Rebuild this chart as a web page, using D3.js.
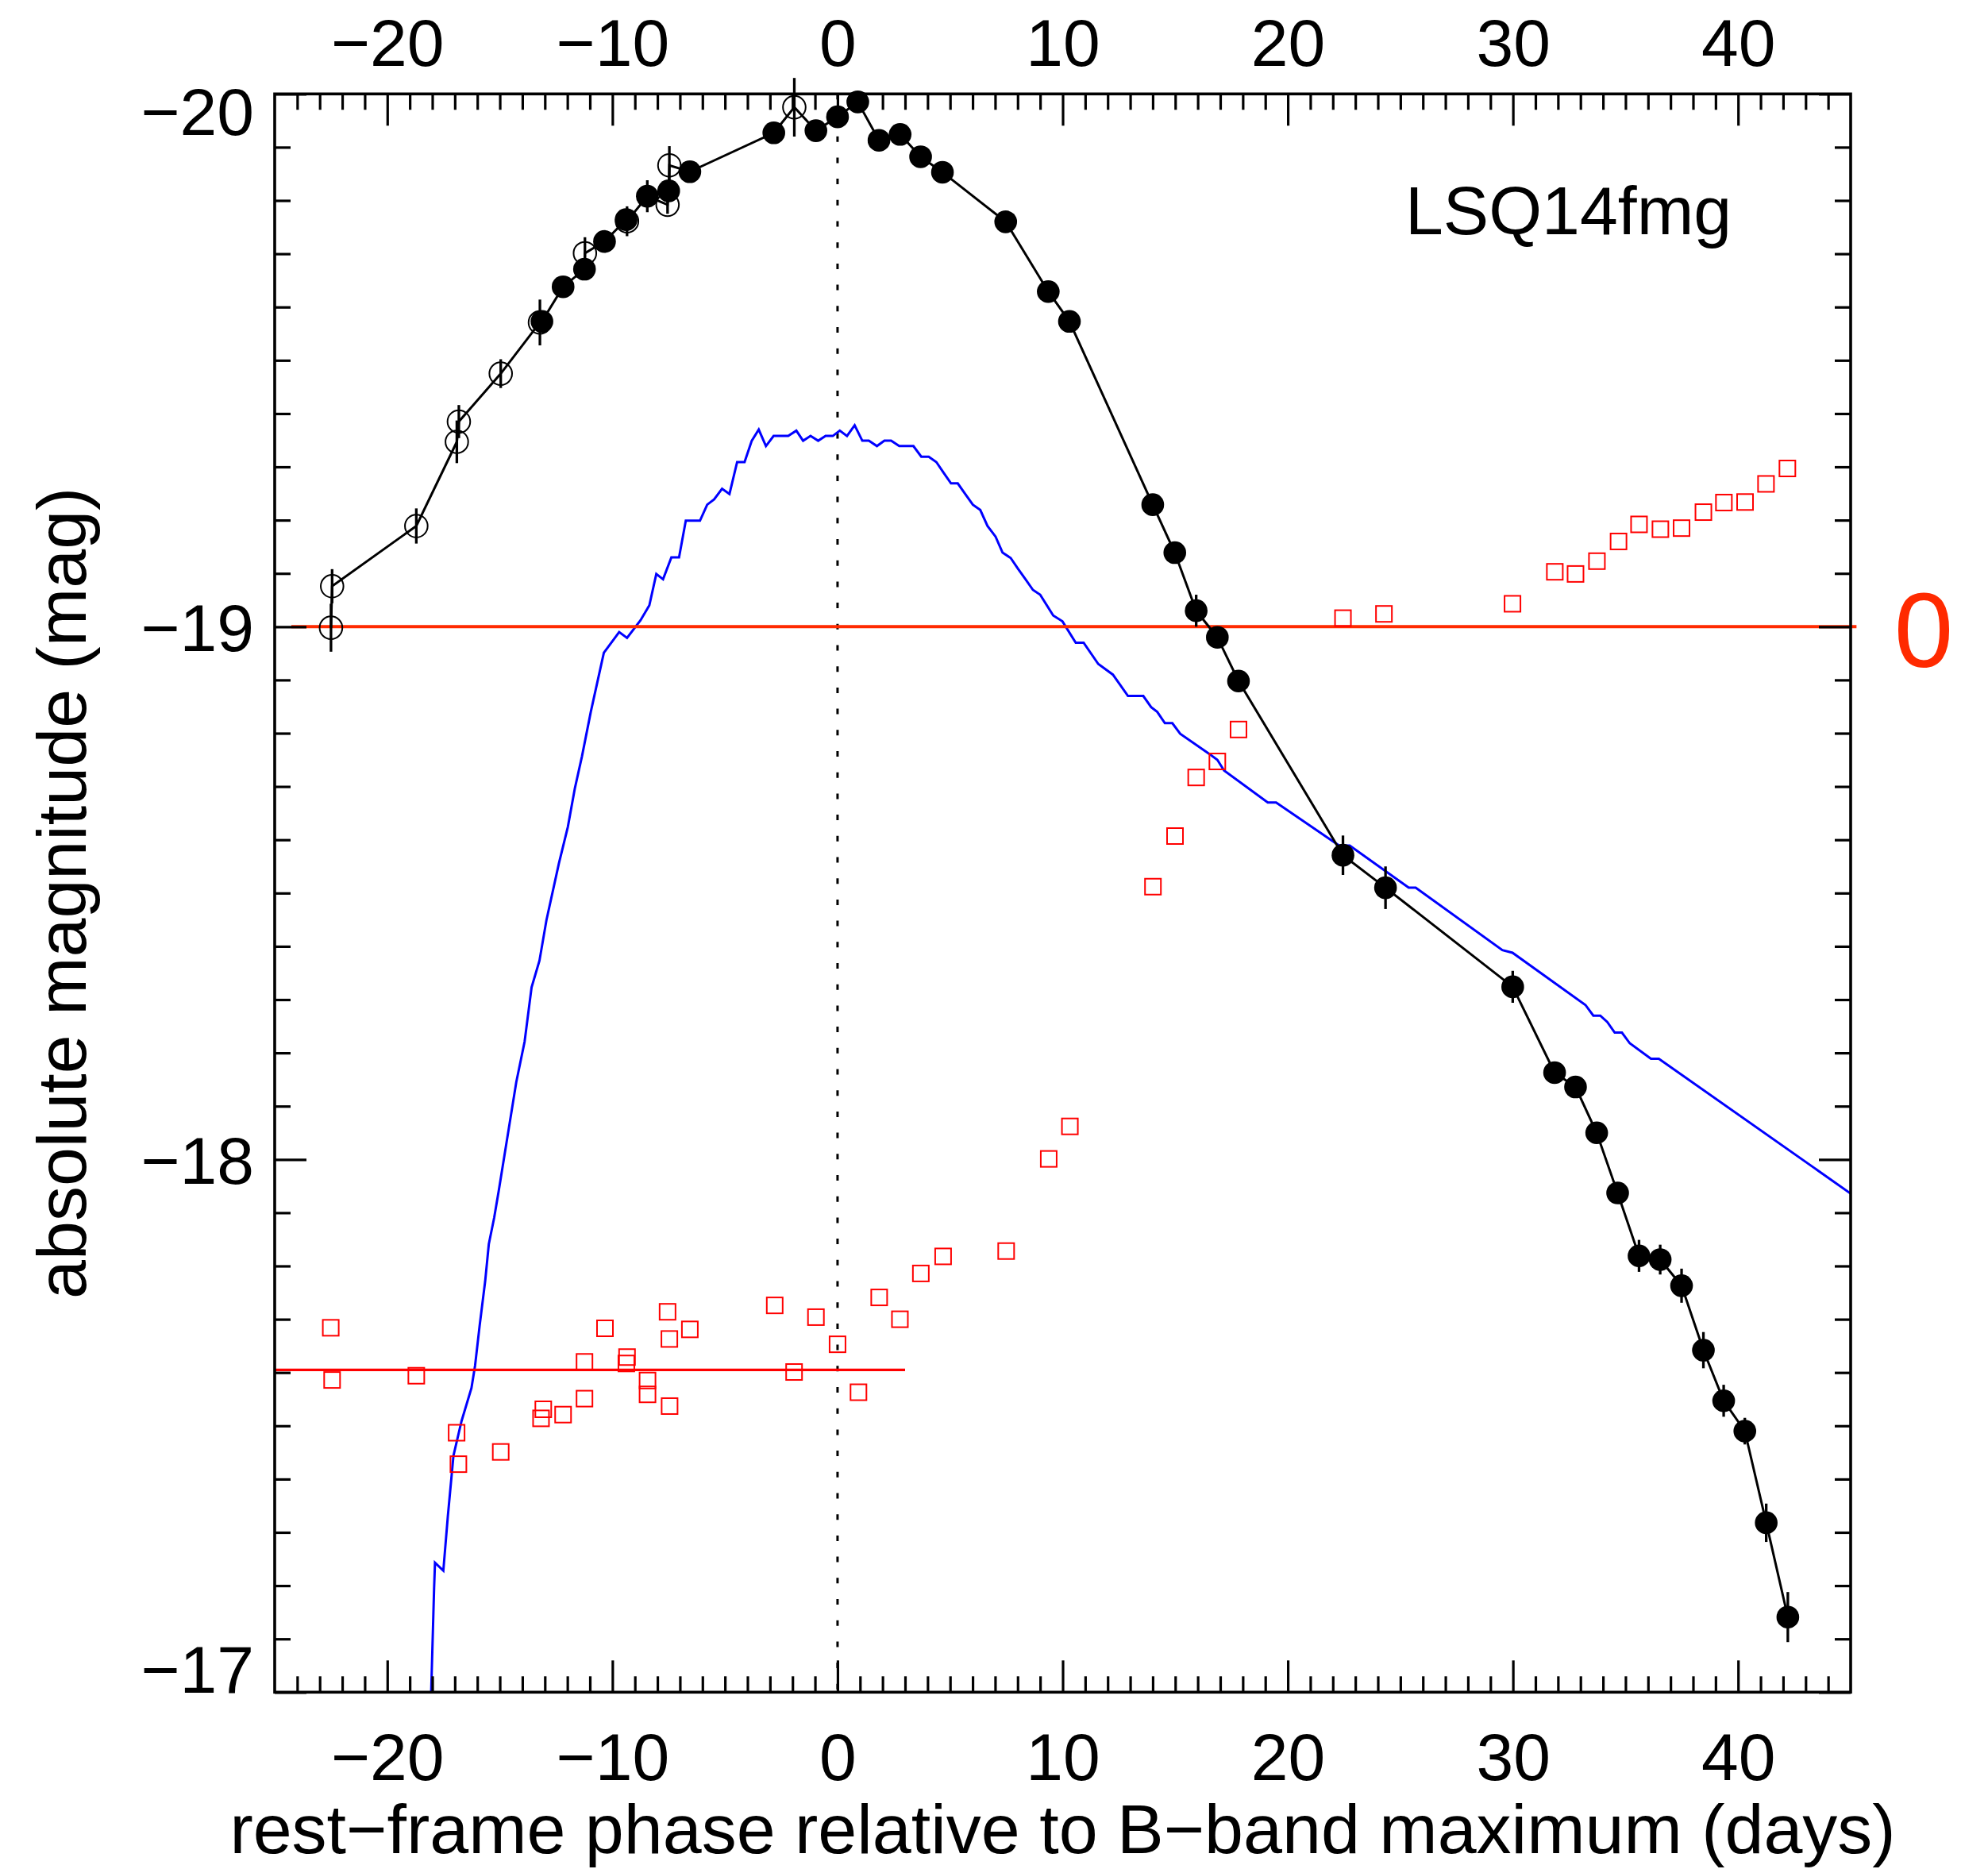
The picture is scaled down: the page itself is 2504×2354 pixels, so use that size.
<!DOCTYPE html>
<html>
<head>
<meta charset="utf-8">
<script src="https://cdn.jsdelivr.net/npm/d3@7"></script>
<style>
  html, body { margin: 0; padding: 0; background: #fff; }
  svg { display: block; }
  text { font-family: "Liberation Sans", Arial, Helvetica, sans-serif; }
</style>
</head>
<body>
<svg id="chart" width="2504" height="2354"></svg>
<script>
// ---------------- data ----------------
const xTicks = [-20, -10, 0, 10, 20, 30, 40];
const yTicks = [-20, -19, -18, -17];

// filled circles (photometry) : phase, absolute magnitude, error
const filledPhase = [-13.13, -12.19, -11.24, -10.35, -9.39, -8.45, -7.50, -6.56, -2.83, -0.96, 0.00, 0.90,
  1.84, 2.78, 3.69, 4.66, 7.47, 9.36, 10.30, 14.00, 14.98, 15.93, 16.87, 17.81, 22.45, 24.34,
  29.99, 31.85, 32.78, 33.72, 34.65, 35.60, 36.54, 37.49, 38.46, 39.36, 40.30, 41.25, 42.21];
const filledMag = [-19.573, -19.638, -19.671, -19.723, -19.764, -19.808, -19.818, -19.854, -19.927, -19.931, -19.957, -19.985,
  -19.913, -19.924, -19.882, -19.853, -19.760, -19.629, -19.573, -19.229, -19.139, -19.030, -18.980, -18.898, -18.571, -18.510,
  -18.324, -18.163, -18.136, -18.050, -17.937, -17.819, -17.812, -17.763, -17.642, -17.547, -17.490, -17.318, -17.141];
const filledErr = [0.015, 0.01, 0.01, 0.01, 0.015, 0.03, 0.01, 0.01, 0.01, 0.01, 0.01, 0.01,
  0.01, 0.01, 0.01, 0.01, 0.01, 0.01, 0.01, 0.01, 0.01, 0.03, 0.01, 0.01, 0.037, 0.04,
  0.03, 0.01, 0.01, 0.015, 0.02, 0.03, 0.028, 0.032, 0.034, 0.03, 0.025, 0.036, 0.047];

// open circles
const openPhase = [-22.50, -22.45, -18.71, -16.91, -16.82, -14.96, -13.22, -11.22, -9.35, -7.55, -7.47, -1.92];
const openMag = [-18.998, -19.076, -19.189, -19.347, -19.385, -19.475, -19.571, -19.701, -19.761, -19.792, -19.866, -19.975];
const openErr = [0.045, 0.032, 0.033, 0.04, 0.031, 0.027, 0.043, 0.03, 0.028, 0.017, 0.036, 0.055];

// red squares (colour, plotted in magnitude frame)
const colorPhase = [-22.51, -22.45, -18.71, -16.92, -16.84, -14.96, -13.07, -13.17, -12.19, -11.24, -11.24,
  -10.33, -9.35, -9.38, -8.44, -8.44, -7.55, -7.47, -7.46, -6.56, -2.79, -1.93, -0.96, 0.00, 0.93,
  1.85, 2.77, 3.70, 4.69, 7.49, 9.38, 10.32,
  14.01, 14.99, 15.93, 16.87, 17.81, 22.45, 24.27, 29.98, 31.86, 32.78, 33.73, 34.69, 35.60,
  36.55, 37.49, 38.46, 39.37, 40.31, 41.24, 42.19];
const colorMag = [-17.684, -17.586, -17.594, -17.487, -17.428, -17.451, -17.531, -17.514, -17.521, -17.620, -17.551,
  -17.683, -17.629, -17.617, -17.585, -17.559, -17.714, -17.663, -17.537, -17.681, -17.726, -17.601, -17.704, -17.653, -17.563,
  -17.741, -17.700, -17.786, -17.818, -17.828, -18.001, -18.062,
  -18.512, -18.607, -18.717, -18.747, -18.807, -19.016, -19.024, -19.043, -19.103, -19.099, -19.123, -19.160, -19.192,
  -19.183, -19.185, -19.215, -19.233, -19.234, -19.268, -19.297];

// reference levels (red horizontal lines)
const levelUpperMag = -19.0, levelUpperFrom = -24.26, levelUpperTo = 45.26;
const levelLowerMag = -17.605, levelLowerFrom = -25.0, levelLowerTo = 3.0;

// blue model light curve
const modelPhase = [-18.10, -18.05, -17.92, -17.88, -17.51, -17.31, -17.06, -16.70, -16.26, -16.10, -15.90, -15.65,
  -15.49, -15.25, -15.05, -14.27, -13.90, -13.59, -13.24, -12.93, -12.38, -11.98, -11.67, -11.35, -10.96,
  -10.38, -9.70, -9.35, -8.75, -8.36, -8.05, -7.75, -7.38, -7.04, -6.74, -6.11, -5.79, -5.48, -5.13, -4.80,
  -4.46, -4.13, -3.81, -3.50, -3.18, -2.84, -2.19, -1.83, -1.53, -1.20, -0.86, -0.53, -0.21, 0.10, 0.42,
  0.76, 1.10, 1.39, 1.75, 2.08, 2.38, 2.74, 3.37, 3.72, 4.05, 4.39, 4.71, 5.04, 5.34, 5.67, 6.01, 6.34,
  6.66, 7.02, 7.33, 7.69, 8.01, 8.35, 8.68, 9.00, 9.58, 9.99, 10.58, 10.93, 11.58, 12.23, 12.90, 13.58,
  13.93, 14.20, 14.54, 14.87, 15.22, 16.52, 16.87, 17.17, 19.11, 19.48, 22.28, 22.75, 25.37, 25.68,
  29.53, 29.98, 33.22, 33.57, 33.88, 34.19, 34.52, 34.84, 35.19, 36.13, 36.48, 45.00];
const modelMag = [-16.93, -17.000, -17.195, -17.243, -17.228, -17.330, -17.444, -17.509, -17.571, -17.613, -17.687, -17.772,
  -17.841, -17.891, -17.941, -18.145, -18.221, -18.323, -18.373, -18.449, -18.555, -18.624, -18.696, -18.757, -18.840,
  -18.951, -18.990, -18.979, -19.012, -19.040, -19.099, -19.089, -19.130, -19.130, -19.199, -19.199, -19.229, -19.239, -19.259, -19.249,
  -19.309, -19.309, -19.349, -19.370, -19.339, -19.358, -19.358, -19.368, -19.349, -19.358, -19.349, -19.358, -19.358, -19.368, -19.358,
  -19.378, -19.349, -19.349, -19.339, -19.349, -19.349, -19.339, -19.339, -19.319, -19.319, -19.309, -19.289, -19.269, -19.269, -19.249, -19.229, -19.219,
  -19.189, -19.169, -19.139, -19.129, -19.109, -19.089, -19.069, -19.060, -19.021, -19.010, -18.970, -18.970, -18.930, -18.910, -18.870, -18.870,
  -18.849, -18.840, -18.819, -18.819, -18.799, -18.761, -18.750, -18.730, -18.670, -18.670, -18.589, -18.589, -18.510, -18.510,
  -18.393, -18.388, -18.290, -18.270, -18.270, -18.258, -18.238, -18.238, -18.218, -18.189, -18.189, -17.936];

const objectName = "LSQ14fmg";
const xTitle = "rest\u2212frame phase relative to B\u2212band maximum (days)";
const yTitle = "absolute magnitude (mag)";
const zeroLabel = "0";

// ---------------- drawing ----------------
const L = 346, R = 2331, T = 118.3, B = 2131.3;
const svg = d3.select("#chart");
svg.append("rect").attr("width", 2504).attr("height", 2354).attr("fill", "#fff");

const x = d3.scaleLinear().domain([-25, 45]).range([L, R]);
const y = d3.scaleLinear().domain([-20, -17]).range([T, B]);

svg.append("defs").append("clipPath").attr("id", "plotclip")
  .append("rect").attr("x", L).attr("y", T).attr("width", R - L).attr("height", B - T);

const fmt = d => d < 0 ? "\u2212" + Math.abs(d) : String(d);
const FONT = 84;

// dotted zero-phase line
svg.append("line")
  .attr("x1", x(0)).attr("x2", x(0)).attr("y1", y(-20)).attr("y2", y(-17))
  .attr("stroke", "#000").attr("stroke-width", 3).attr("stroke-dasharray", "7,19.7");

// blue model
const modelData = d3.zip(modelPhase, modelMag);
svg.append("path")
  .datum(modelData)
  .attr("clip-path", "url(#plotclip)")
  .attr("fill", "none").attr("stroke", "#0000ff").attr("stroke-width", 3)
  .attr("stroke-linejoin", "miter")
  .attr("d", d3.line().x(d => x(d[0])).y(d => y(d[1])));

// red reference lines
svg.append("line")
  .attr("x1", x(levelLowerFrom)).attr("x2", x(levelLowerTo))
  .attr("y1", y(levelLowerMag)).attr("y2", y(levelLowerMag))
  .attr("stroke", "#ff0000").attr("stroke-width", 3.3);
svg.append("line")
  .attr("x1", x(levelUpperFrom)).attr("x2", x(levelUpperTo))
  .attr("y1", y(levelUpperMag)).attr("y2", y(levelUpperMag))
  .attr("stroke", "#ff2a00").attr("stroke-width", 4);

// black connecting line through all photometry, time ordered
const allPts = d3.zip(filledPhase, filledMag).concat(d3.zip(openPhase, openMag))
  .sort((a, b) => a[0] - b[0]);
svg.append("path")
  .datum(allPts)
  .attr("fill", "none").attr("stroke", "#000").attr("stroke-width", 3)
  .attr("d", d3.line().x(d => x(d[0])).y(d => y(d[1])));

// error bars
const errData = d3.zip(filledPhase, filledMag, filledErr).concat(d3.zip(openPhase, openMag, openErr));
svg.append("g").selectAll("line").data(errData).join("line")
  .attr("x1", d => x(d[0])).attr("x2", d => x(d[0]))
  .attr("y1", d => y(d[1] - d[2])).attr("y2", d => y(d[1] + d[2]))
  .attr("stroke", "#000").attr("stroke-width", 3.3);

// open circles
svg.append("g").selectAll("circle").data(d3.zip(openPhase, openMag)).join("circle")
  .attr("cx", d => x(d[0])).attr("cy", d => y(d[1])).attr("r", 14.3)
  .attr("fill", "none").attr("stroke", "#000").attr("stroke-width", 2);

// filled circles
svg.append("g").selectAll("circle").data(d3.zip(filledPhase, filledMag)).join("circle")
  .attr("cx", d => x(d[0])).attr("cy", d => y(d[1])).attr("r", 14.3)
  .attr("fill", "#000");

// red squares
const S = 20;
svg.append("g").selectAll("rect").data(d3.zip(colorPhase, colorMag)).join("rect")
  .attr("x", d => x(d[0]) - S / 2).attr("y", d => y(d[1]) - S / 2)
  .attr("width", S).attr("height", S)
  .attr("fill", "none").attr("stroke", "#ff0000").attr("stroke-width", 2);

// ---------------- axes ----------------
const xMinor = d3.range(-24, 45, 1).filter(v => v % 10 !== 0);
const yMinor = d3.range(1, 30).map(i => -20 + i * 0.1).filter(v => Math.abs(v - Math.round(v)) > 1e-6);

function styleAxis(g) {
  g.select(".domain").remove();
  g.selectAll(".tick line").attr("stroke", "#000").attr("stroke-width", 3.2);
  g.selectAll(".tick text").attr("fill", "#000").attr("font-size", FONT)
    .attr("font-family", "'Liberation Sans', Arial, Helvetica, sans-serif");
}

// bottom
svg.append("g").attr("transform", `translate(0,${B})`)
  .call(d3.axisBottom(x).tickValues(xMinor).tickSize(-20).tickSizeOuter(0).tickFormat(""))
  .call(styleAxis);
svg.append("g").attr("transform", `translate(0,${B})`)
  .call(d3.axisBottom(x).tickValues(xTicks).tickSize(-40).tickSizeOuter(0).tickPadding(51).tickFormat(fmt))
  .call(styleAxis);
// top
svg.append("g").attr("transform", `translate(0,${T})`)
  .call(d3.axisTop(x).tickValues(xMinor).tickSize(-20).tickSizeOuter(0).tickFormat(""))
  .call(styleAxis);
svg.append("g").attr("transform", `translate(0,${T})`)
  .call(d3.axisTop(x).tickValues(xTicks).tickSize(-40).tickSizeOuter(0).tickPadding(35).tickFormat(fmt))
  .call(styleAxis);
// left
svg.append("g").attr("transform", `translate(${L},0)`)
  .call(d3.axisLeft(y).tickValues(yMinor).tickSize(-20).tickSizeOuter(0).tickFormat(""))
  .call(styleAxis);
const leftMajor = svg.append("g").attr("transform", `translate(${L},0)`)
  .call(d3.axisLeft(y).tickValues(yTicks).tickSize(-40).tickSizeOuter(0).tickPadding(26).tickFormat(fmt))
  .call(styleAxis);
leftMajor.selectAll(".tick text").attr("dy", d => d === -20 ? "0.615em" : (d === -17 ? "0em" : "0.36em"));
// right
svg.append("g").attr("transform", `translate(${R},0)`)
  .call(d3.axisRight(y).tickValues(yMinor).tickSize(-20).tickSizeOuter(0).tickFormat(""))
  .call(styleAxis);
svg.append("g").attr("transform", `translate(${R},0)`)
  .call(d3.axisRight(y).tickValues(yTicks).tickSize(-40).tickSizeOuter(0).tickFormat(""))
  .call(styleAxis);

// frame
svg.append("rect").attr("x", L).attr("y", T).attr("width", R - L).attr("height", B - T)
  .attr("fill", "none").attr("stroke", "#000").attr("stroke-width", 3.6);

// ---------------- texts ----------------
svg.append("text").attr("x", (L + R) / 2).attr("y", 2334)
  .attr("text-anchor", "middle").attr("font-size", 88).attr("fill", "#000").text(xTitle);
svg.append("text").attr("transform", `translate(108,${(T + B) / 2}) rotate(-90)`)
  .attr("text-anchor", "middle").attr("font-size", 88).attr("fill", "#000").text(yTitle);
svg.append("text").attr("x", 1770).attr("y", 295)
  .attr("font-size", 86).attr("fill", "#000").text(objectName);
svg.append("text").attr("x", 2423).attr("y", y(levelUpperMag) + 51)
  .attr("text-anchor", "middle").attr("font-size", 134).attr("fill", "#ff2a00").text(zeroLabel);
</script>
</body>
</html>
